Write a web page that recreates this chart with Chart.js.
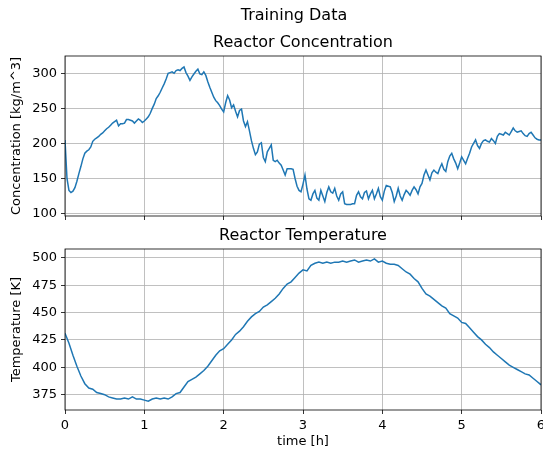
<!DOCTYPE html>
<html>
<head>
<meta charset="utf-8">
<script src="https://cdn.jsdelivr.net/npm/chart.js@4/dist/chart.umd.min.js"></script>
<style>
  body { margin: 0; background: #fff; }
  #wrap { position: relative; width: 543px; height: 455px; }
  canvas { position: absolute; left: 0; }
</style>
</head>
<body>
<div id="wrap">
  <canvas id="concChart" width="543" height="226" style="top:0"></canvas>
  <canvas id="tempChart" width="543" height="229" style="top:226px"></canvas>
</div>
<script>
// concentration read every 0.025 h, temperature every 0.05 h, both over 0..6 h
const CONC_STEP_H = 0.025;
const TEMP_STEP_H = 0.05;

const concentration = [
  205, 150, 133, 130, 132, 137, 146, 157, 167, 178,
  186, 189, 191, 195, 203, 206, 208, 210, 213, 215,
  218, 221, 223, 226, 229, 231, 233, 225, 228, 228,
  229, 234, 234, 233, 232, 229, 232, 235, 233, 230,
  232, 235, 238, 243, 250, 256, 264, 268, 273, 279,
  285, 292, 300, 301, 302, 300, 304, 305, 304, 307,
  309, 301, 296, 290, 295, 299, 303, 306, 299, 298,
  302, 297, 288, 280, 273, 266, 261, 258, 254, 249,
  245, 258, 268, 262, 251, 255, 246, 238, 247, 249,
  232, 224, 231, 218, 204, 193, 184, 188, 199, 201,
  180, 174, 188, 193, 198, 176, 174, 176, 172, 169,
  162, 155, 164, 164, 164, 163, 150, 139, 133, 131,
  142, 155, 135, 121, 119, 128, 133, 122, 119, 133,
  125, 117, 130, 138, 131, 129, 136, 125, 119, 128,
  131, 114, 113, 113, 113, 114, 114, 126, 131, 124,
  121, 130, 132, 121, 128, 133, 121, 128, 136, 124,
  119, 132, 140, 139, 138, 130, 117, 125, 136, 125,
  119, 127, 133, 130, 126, 133, 138, 134, 128, 138,
  143, 155, 162, 155, 148, 158, 162, 159, 157, 165,
  171, 163, 160, 174, 182, 186, 178, 172, 164, 172,
  181, 176, 171, 179, 186, 195, 200, 205, 197, 193,
  200, 204, 205, 203, 202, 207, 204, 200, 210, 214,
  213, 212, 216, 214, 212, 217, 222, 218, 216, 217,
  218, 214, 211, 210, 214, 216, 212, 208, 206, 205,
  205
];

const temperature = [
  431, 422, 411, 401, 392, 385, 381, 380, 377, 376,
  375, 373, 372, 371, 371, 372, 371, 373, 371, 371,
  370, 369, 371, 372, 371, 372, 371, 373, 376, 377,
  382, 387, 389, 391, 394, 397, 401, 406, 411, 415,
  417, 421, 425, 430, 433, 437, 442, 446, 449, 451,
  455, 457, 460, 463, 467, 472, 476, 478, 482, 486,
  489, 488, 493, 495, 496, 495, 496, 495, 496, 496,
  497, 496, 497, 498, 496, 497, 498, 497, 499, 496,
  497, 495, 494, 494, 493, 490, 487, 485, 481, 478,
  472, 467, 465, 462, 459, 456, 454, 449, 447, 445,
  441, 440, 436, 432, 428, 425, 421, 418, 414, 411,
  408, 405, 402, 400, 398, 396, 394, 393, 390, 387,
  384
];

const timeTicks = [0, 1, 2, 3, 4, 5, 6];
const concTicks = [100, 150, 200, 250, 300];
const tempTicks = [375, 400, 425, 450, 475, 500];

const FONT = '"DejaVu Sans", sans-serif';
const LINE_BLUE = '#1f77b4';

// frame on all four sides + subplot title centred on the plot area
const frameTitle = {
  id: 'frameTitle',
  afterDraw(chart, args, opts) {
    const { ctx, chartArea: a } = chart;
    ctx.save();
    ctx.strokeStyle = '#000';
    ctx.lineWidth = 0.8;
    ctx.strokeRect(a.left, a.top, a.right - a.left, a.bottom - a.top);
    ctx.fillStyle = '#000';
    ctx.textAlign = 'center';
    ctx.textBaseline = 'middle';
    ctx.font = '16px ' + FONT;
    ctx.fillText(opts.text, (a.left + a.right) / 2, a.top - 13);
    if (opts.suptitle) {
      ctx.fillText(opts.suptitle, opts.supX, opts.supY);
    }
    ctx.restore();
  }
};

const subplotBuilder = (canvasId, opts) => {
  const points = opts.values.map((v, i) => ({ x: +(i * opts.step).toFixed(3), y: v }));
  return new Chart(document.getElementById(canvasId), {
    type: 'line',
    data: {
      datasets: [{
        data: points,
        borderColor: LINE_BLUE,
        borderWidth: 1.5,
        pointRadius: 0,
        tension: 0,
      }]
    },
    options: {
      responsive: false,
      animation: false,
      layout: { padding: opts.padding },
      plugins: {
        legend: { display: false },
        tooltip: { enabled: false },
        frameTitle: { text: opts.title, suptitle: opts.suptitle, supX: 294, supY: 16 },
      },
      scales: {
        x: {
          type: 'linear',
          min: 0,
          max: 6,
          afterBuildTicks: s => { s.ticks = timeTicks.map(v => ({ value: v })); },
          afterFit: s => {
            s.height = opts.xHeight;
            s.paddingLeft = 0;
            s.paddingRight = 0;
          },
          grid: { color: '#b0b0b0', lineWidth: 0.8, tickColor: '#000', tickLength: 4, tickWidth: 0.8 },
          border: { display: false },
          ticks: {
            display: opts.showX,
            color: '#000',
            padding: 4,
            maxRotation: 0,
            font: { family: FONT, size: 13 },
          },
          title: {
            display: opts.showX,
            text: 'time [h]',
            color: '#000',
            font: { family: FONT, size: 13 },
            padding: { top: 4, bottom: 6 },
          },
        },
        y: {
          min: opts.yMin,
          max: opts.yMax,
          afterBuildTicks: s => { s.ticks = opts.yTicks.map(v => ({ value: v })); },
          afterFit: s => {
            s.width = 65;
            s.paddingTop = 0;
            s.paddingBottom = 0;
          },
          grid: { color: '#b0b0b0', lineWidth: 0.8, tickColor: '#000', tickLength: 4, tickWidth: 0.8 },
          border: { display: false },
          ticks: {
            color: '#000',
            padding: 4,
            font: { family: FONT, size: 13 },
          },
          title: {
            display: true,
            text: opts.yLabel,
            color: '#000',
            font: { family: FONT, size: 13 },
            padding: { top: 9, bottom: 0 },
          },
        },
      },
    },
    plugins: [frameTitle],
  });
};

try {
  subplotBuilder('concChart', {
    values: concentration,
    step: CONC_STEP_H,
    title: 'Reactor Concentration',
    suptitle: 'Training Data',
    yLabel: 'Concentration [kg/m^3]',
    yMin: 96.5,
    yMax: 324.7,
    yTicks: concTicks,
    showX: false,
    xHeight: 4,
    padding: { left: 0, right: 2, top: 56, bottom: 6 },
  });

  subplotBuilder('tempChart', {
    values: temperature,
    step: TEMP_STEP_H,
    title: 'Reactor Temperature',
    yLabel: 'Temperature [K]',
    yMin: 361,
    yMax: 508,
    yTicks: tempTicks,
    showX: true,
    xHeight: 45,
    padding: { left: 0, right: 2, top: 23, bottom: 0 },
  });
} catch (error) {
  console.log(error.message);
}
</script>
</body>
</html>
